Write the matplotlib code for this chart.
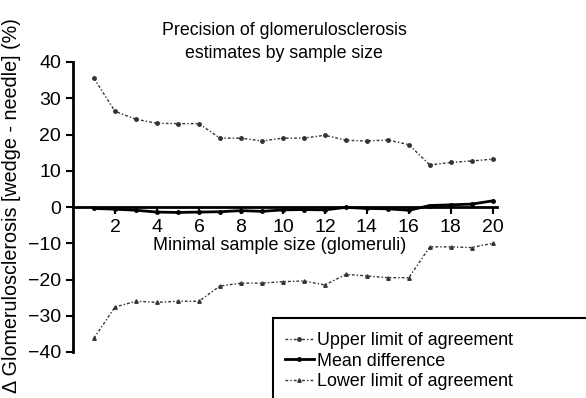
import matplotlib.pyplot as plt
from matplotlib.patches import Rectangle

sample_size = list(range(1, 21))
upper_limit = [35.5, 26.4, 24.2, 23.1, 23.0, 23.0, 19.0, 19.0, 18.2, 19.0,
               19.0, 19.8, 18.4, 18.2, 18.5, 17.2, 11.6, 12.3, 12.7, 13.2]
mean_diff = [-0.4, -0.6, -0.9, -1.4, -1.5, -1.4, -1.3, -1.0, -1.2, -0.8,
             -0.7, -0.8, -0.1, -0.4, -0.5, -0.9, 0.4, 0.6, 0.8, 1.7]
lower_limit = [-36.2, -27.6, -26.0, -26.3, -26.0, -26.0, -21.8, -21.0, -21.0, -20.6,
               -20.4, -21.5, -18.6, -19.0, -19.5, -19.5, -11.0, -11.0, -11.2, -10.0]

plt.rcParams['font.family'] = ['Liberation Sans', 'DejaVu Sans']

fig = plt.figure(figsize=(5.86, 3.98), dpi=100)
ax = fig.add_axes([73 / 586, 1 - 352 / 398, (497 - 73) / 586, 290 / 398])

dotted = (0, (2, 1.5, 1, 1.5))
ax.plot(sample_size, upper_limit, color='#333333', ls=dotted, lw=1.0,
        marker='o', ms=2.5, label='Upper limit of agreement')
ax.plot(sample_size, mean_diff, color='black', ls='-', lw=2.0,
        marker='o', ms=2.5, label='Mean difference')
ax.plot(sample_size, lower_limit, color='#333333', ls=dotted, lw=1.0,
        marker='^', ms=2.5, label='Lower limit of agreement')

ax.set_xlim(0, 20.2)
ax.set_ylim(-40, 40)
ax.set_xticks(range(2, 21, 2))
ax.set_yticks(range(-40, 41, 10))
ax.spines['left'].set_linewidth(2)
ax.spines['bottom'].set_linewidth(2)
ax.spines['bottom'].set_position(('data', 0))
ax.spines['top'].set_visible(False)
ax.spines['right'].set_visible(False)
ax.tick_params(labelsize=14, width=1.5, length=5, direction='out')

ax.text(0.488, 0.366, 'Minimal sample size (glomeruli)', transform=ax.transAxes,
        ha='center', va='center', fontsize=13)
fig.text(12 / 586, 1 - 206 / 398, 'Δ Glomerulosclerosis [wedge - needle] (%)',
         rotation=90, ha='center', va='center', fontsize=14.2)
fig.text(284 / 586, 1 - 42 / 398, 'Precision of glomerulosclerosis\nestimates by sample size',
         ha='center', va='center', fontsize=12.8, linespacing=1.4)

fig.patches.append(Rectangle((273 / 586, -0.1), 0.6, 0.1 + 1 - 318 / 398,
                             transform=fig.transFigure, fill=False, lw=1.5,
                             edgecolor='black'))
fig.legend(loc='upper left', bbox_to_anchor=(285 / 586, 1 - 332 / 398),
           frameon=False, fontsize=12.9, handlelength=1.6, handletextpad=0.2,
           labelspacing=0.2, borderpad=0, borderaxespad=0)

fig.savefig('out.png', dpi=100)
